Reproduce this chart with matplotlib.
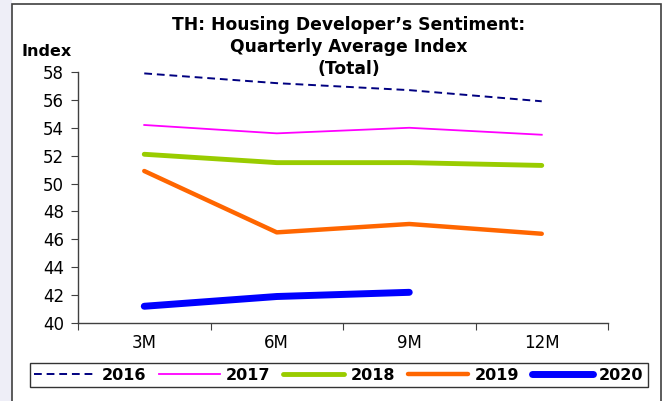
import numpy as np
import matplotlib.pyplot as plt
from matplotlib.patches import Rectangle

# =========================
# Data
# =========================
periods = ["3M", "6M", "9M", "12M"]
y2016 = [57.9, 57.2, 56.7, 55.9]
y2017 = [54.2, 53.6, 54.0, 53.5]
y2018 = [52.1, 51.5, 51.5, 51.3]
y2019 = [50.9, 46.5, 47.1, 46.4]
y2020 = [41.2, 41.9, 42.2]

plt.rcParams['font.family'] = ['DejaVu Sans']

W, H = 667, 401
fig = plt.figure(figsize=(W / 100, H / 100), dpi=100)
fig.patch.set_facecolor('white')

# left lavender strip and the outer chart frame
fig.patches.append(Rectangle((0, 0), 12 / W, 1, transform=fig.transFigure,
                             facecolor='#eeeef7', edgecolor='none', zorder=-2))
fig.patches.append(Rectangle((12 / W, -0.05), 649 / W, 1.05 - 4 / H,
                             transform=fig.transFigure, facecolor='white',
                             edgecolor='#404040', linewidth=1.2, zorder=-1))

ax = fig.add_axes([78 / W, 1 - 323 / H, (608 - 78) / W, (323 - 72) / H])
ax.set_facecolor('none')

x = np.arange(len(periods))
ax.plot(x, y2016, color='#000080', lw=1.4, ls=(0, (4, 2.5)), label='2016')
ax.plot(x, y2017, color='#ff00ff', lw=1.3, label='2017')
ax.plot(x, y2018, color='#99cc00', lw=3.5, solid_capstyle='round', label='2018')
ax.plot(x, y2019, color='#ff6600', lw=3.2, solid_capstyle='round', label='2019')
ax.plot(x[:len(y2020)], y2020, color='#0000ff', lw=5, solid_capstyle='round', label='2020')

ax.set_xlim(-0.5, len(periods) - 0.5)
ax.set_ylim(40, 58)
ax.set_yticks(np.arange(40, 59, 2))

# category labels between boundary ticks
ax.set_xticks(np.arange(-0.5, len(periods), 1.0))
ax.set_xticklabels([])
ax.set_xticks(x, minor=True)
ax.set_xticklabels(periods, minor=True)
ax.tick_params(axis='x', which='major', length=5, direction='out', color='#404040')
ax.tick_params(axis='x', which='minor', length=0, pad=8, labelsize=12)
ax.tick_params(axis='y', length=5, direction='out', color='#404040', labelsize=12, pad=5)

for s in ['top', 'right']:
    ax.spines[s].set_visible(False)
for s in ['left', 'bottom']:
    ax.spines[s].set_color('#404040')
    ax.spines[s].set_linewidth(1.0)

fig.text(349 / W, 1 - 47 / H,
         "TH: Housing Developer\u2019s Sentiment:\nQuarterly Average Index\n(Total)",
         ha='center', va='center', fontsize=12.3, fontweight='bold', linespacing=1.3)
fig.text(47 / W, 1 - 52 / H, "Index", ha='center', va='center',
         fontsize=11.5, fontweight='bold')

leg = fig.legend(loc='center', bbox_to_anchor=(339 / W, 1 - 375 / H), ncol=5,
                 frameon=True, fancybox=False, edgecolor='black',
                 prop={'weight': 'bold', 'size': 11.5}, handlelength=3.8,
                 handletextpad=0.4, columnspacing=0.8, borderpad=0.3)
leg.get_frame().set_linewidth(1.0)

fig.savefig('out.png', dpi=100)
